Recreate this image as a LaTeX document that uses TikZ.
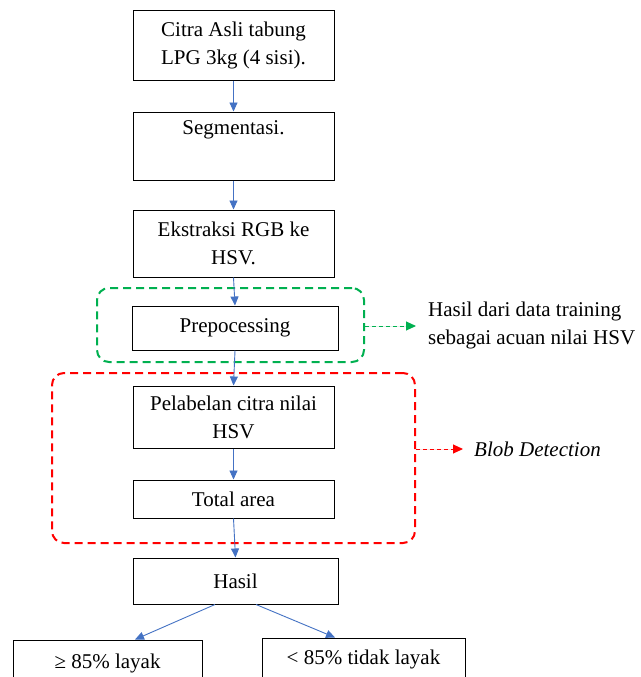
\documentclass[tikz,border=0pt]{standalone}
\usepackage{fontspec}
\setmainfont{Liberation Serif}
\usetikzlibrary{arrows.meta}
\definecolor{flowblue}{RGB}{68,114,196}
\definecolor{grn}{RGB}{0,176,80}
\definecolor{rd}{RGB}{255,0,0}
\begin{document}
\begin{tikzpicture}[x=1pt,y=-1pt,
  font=\fontsize{21}{28}\selectfont,
  stepbox/.style={draw=black,line width=1pt,rectangle,align=center,inner sep=0pt},
  flow/.style={draw=flowblue,line width=0.9pt,-{Triangle[length=9pt,width=8pt]}},
  grpbox/.style={rectangle,rounded corners=12pt,line width=2pt,dash pattern=on 8pt off 5pt,inner sep=0pt},
  note/.style={line width=1pt,dash pattern=on 4pt off 3pt,-{Triangle[length=10pt,width=9pt]}}]
\useasboundingbox (0,0) rectangle (640,677);
\clip (0,0) rectangle (640,677);
\fill[white] (0,0) rectangle (640,677);
% group frames
\node[grpbox,draw=grn,minimum width=267pt,minimum height=74pt] (green) at (230.5,325) {};
\node[grpbox,draw=rd,minimum width=363pt,minimum height=170pt] (red) at (233.5,458) {};
% boxes
\node[stepbox,minimum width=201pt,minimum height=69pt] (b1) at (233.5,45.5) {Citra Asli tabung\\LPG 3kg (4 sisi).};
\node[stepbox,minimum width=201pt,minimum height=68pt] (b2) at (233.5,146) {Segmentasi.\\\strut};
\node[stepbox,minimum width=201pt,minimum height=67pt] (b3) at (233.5,243.5) {Ekstraksi RGB ke\\HSV.};
\node[stepbox,minimum width=206pt,minimum height=44pt] (b4) at (235,328) {Prepocessing};
\node[stepbox,minimum width=201pt,minimum height=62pt] (b5) at (233.5,417) {Pelabelan citra nilai\\HSV};
\node[stepbox,minimum width=201pt,minimum height=38pt] (b6) at (233.5,499) {Total area};
\node[stepbox,minimum width=205pt,minimum height=46pt] (b7) at (235.5,581) {Hasil};
\node[stepbox,minimum width=189pt,minimum height=46pt] (b8) at (107.5,663) {≥ 85\% layak};
\node[stepbox,minimum width=203pt,minimum height=42pt] (b9) at (363.5,659) {< 85\% tidak layak};
% flow arrows
\draw[flow] (b1.south) -- (b2.north);
\draw[flow] (b2.south) -- (b3.north);
\draw[flow] (b3.south) -- (b4.north);
\draw[flow] (b4.south) -- (b5.north);
\draw[flow] (b5.south) -- (b6.north);
\draw[flow] (b6.south) -- (b7.north);
\draw[flow] ([xshift=-20.5pt]b7.south) -- ([xshift=27.5pt]b8.north);
\draw[flow] ([xshift=20.5pt]b7.south) -- ([xshift=-28.5pt]b9.north);
% notes
\node[anchor=west,align=left,inner sep=0pt] (n1) at (428,325) {Hasil dari data training\\sebagai acuan nilai HSV};
\node[anchor=west,inner sep=0pt] (n2) at (474,449) {\itshape Blob Detection};
\draw[note,draw=grn,fill=grn] ([yshift=-1pt]green.east) -- ([xshift=-12pt,yshift=-1pt]n1.west);
\draw[note,draw=rd,fill=rd] (red.east |- n2.west) -- ([xshift=-11pt]n2.west);
\end{tikzpicture}
\end{document}
